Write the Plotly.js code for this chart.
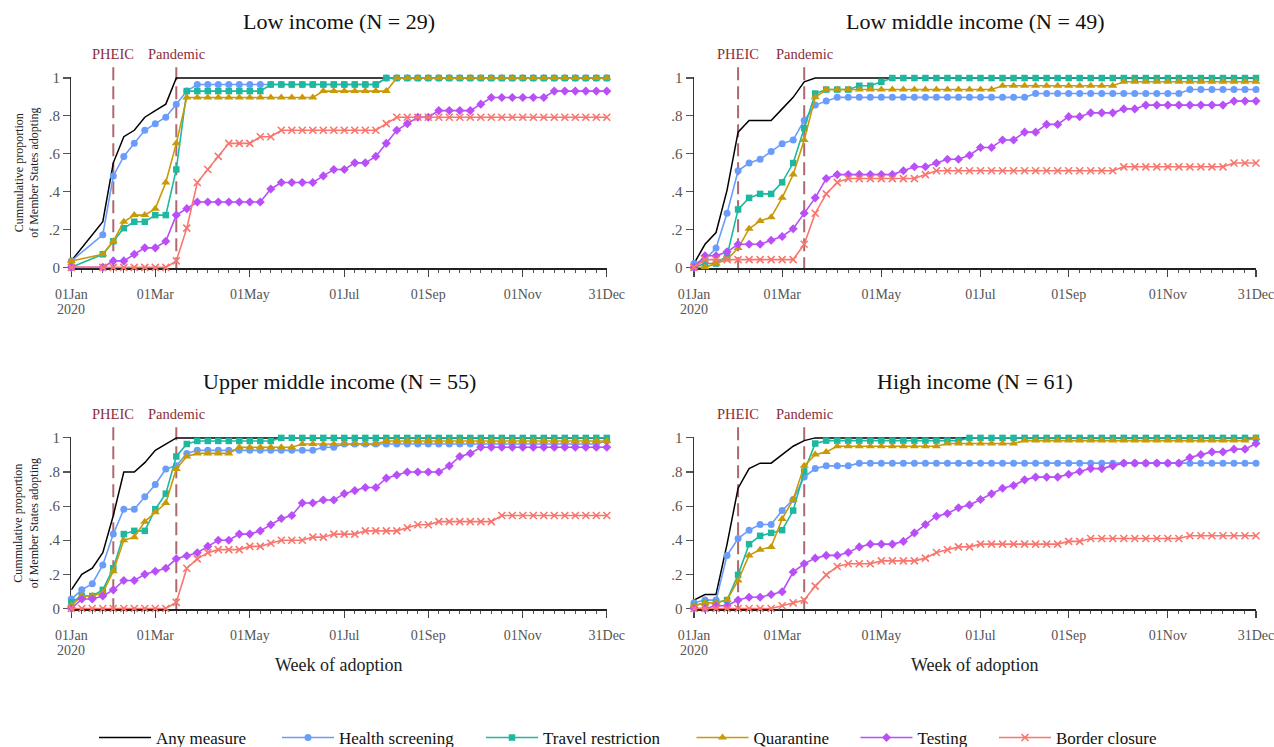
<!DOCTYPE html>
<html>
<head>
<meta charset="utf-8">
<script src="https://cdn.plot.ly/plotly-3.0.1.min.js"></script>
<style>html,body{margin:0;padding:0;background:#fff}</style>
</head>
<body>
<div id="chart" style="width:1274px;height:747px"></div>
<script>
// Weekly cumulative adoption of COVID-19 measures by income group, 2020.
// x values are week numbers of 2020 (week 0 = 01 Jan).

const weeksLow = [0,3,4,5,6,7,8,9,10,11,12,13,14,15,16,17,18,19,20,21,22,23,24,25,26,27,28,29,30,31,32,33,34,35,36,37,38,39,40,41,42,43,44,45,46,47,48,49,50,51];
const weeksAll = [0,1,2,3,4,5,6,7,8,9,10,11,12,13,14,15,16,17,18,19,20,21,22,23,24,25,26,27,28,29,30,31,32,33,34,35,36,37,38,39,40,41,42,43,44,45,46,47,48,49,50,51];

const tickWeeks = [0, 8, 17, 26, 34, 43, 51];
const tickLabels = ["01Jan", "01Mar", "01May", "01Jul", "01Sep", "01Nov", "31Dec"];
const yearLabel = "2020";
const yTicks = [0, 0.2, 0.4, 0.6, 0.8, 1];
const yTickLabels = ["0", ".2", ".4", ".6", ".8", "1"];

const eventNames = ["PHEIC", "Pandemic"];
const eventWeeks = [4, 10];

const panelTitles = ["Low income (N = 29)", "Low middle income (N = 49)", "Upper middle income (N = 55)", "High income (N = 61)"];
const measures = ["Any measure", "Health screening", "Travel restriction", "Quarantine", "Testing", "Border closure"];

// Low income
const low_any = [.034,.241,.552,.690,.724,.793,.828,.862,1,1,1,1,1,1,1,1,1,1,1,1,1,1,1,1,1,1,1,1,1,1,1,1,1,1,1,1,1,1,1,1,1,1,1,1,1,1,1,1,1,1];
const low_health = [.034,.172,.483,.586,.655,.724,.759,.793,.862,.931,.966,.966,.966,.966,.966,.966,.966,.966,.966,.966,.966,.966,.966,.966,.966,.966,.966,.966,1,1,1,1,1,1,1,1,1,1,1,1,1,1,1,1,1,1,1,1,1,1];
const low_travel = [0,.069,.138,.207,.241,.241,.276,.276,.517,.931,.931,.931,.931,.931,.931,.931,.931,.966,.966,.966,.966,.966,.966,.966,.966,.966,.966,.966,1,1,1,1,1,1,1,1,1,1,1,1,1,1,1,1,1,1,1,1,1,1];
const low_quar = [.034,.069,.138,.241,.276,.276,.310,.448,.655,.897,.897,.897,.897,.897,.897,.897,.897,.897,.897,.897,.897,.897,.931,.931,.931,.931,.931,.931,.931,1,1,1,1,1,1,1,1,1,1,1,1,1,1,1,1,1,1,1,1,1];
const low_test = [0,0,.034,.034,.069,.103,.103,.138,.276,.310,.345,.345,.345,.345,.345,.345,.345,.414,.448,.448,.448,.448,.483,.517,.517,.552,.552,.586,.655,.724,.759,.793,.793,.828,.828,.828,.828,.862,.897,.897,.897,.897,.897,.897,.931,.931,.931,.931,.931,.931];
const low_border = [0,0,0,0,0,0,0,0,.034,.207,.448,.517,.586,.655,.655,.655,.690,.690,.724,.724,.724,.724,.724,.724,.724,.724,.724,.724,.759,.793,.793,.793,.793,.793,.793,.793,.793,.793,.793,.793,.793,.793,.793,.793,.793,.793,.793,.793,.793,.793];

// Low middle income
const lm_any = [.020,.122,.184,.408,.714,.776,.776,.776,.837,.898,.980,1,1,1,1,1,1,1,1,1,1,1,1,1,1,1,1,1,1,1,1,1,1,1,1,1,1,1,1,1,1,1,1,1,1,1,1,1,1,1,1,1];
const lm_health = [.020,.041,.102,.286,.510,.551,.571,.612,.653,.673,.776,.857,.878,.898,.898,.898,.898,.898,.898,.898,.898,.898,.898,.898,.898,.898,.898,.898,.898,.898,.898,.918,.918,.918,.918,.918,.918,.918,.918,.918,.918,.918,.918,.918,.918,.939,.939,.939,.939,.939,.939,.939];
const lm_travel = [0,.020,.020,.061,.306,.367,.388,.388,.449,.551,.735,.918,.939,.939,.939,.959,.959,.980,1,1,1,1,1,1,1,1,1,1,1,1,1,1,1,1,1,1,1,1,1,1,1,1,1,1,1,1,1,1,1,1,1,1];
const lm_quar = [0,0,.020,.041,.102,.204,.245,.265,.367,.490,.673,.898,.939,.939,.939,.939,.939,.939,.939,.939,.939,.939,.939,.939,.939,.939,.939,.939,.959,.959,.959,.959,.959,.959,.959,.959,.959,.959,.959,.980,.980,.980,.980,.980,.980,.980,.980,.980,.980,.980,.980,.980];
const lm_test = [0,.061,.061,.082,.122,.122,.122,.143,.163,.204,.286,.367,.469,.490,.490,.490,.490,.490,.490,.510,.531,.531,.551,.571,.571,.592,.633,.633,.673,.673,.714,.714,.755,.755,.796,.796,.816,.816,.816,.837,.837,.857,.857,.857,.857,.857,.857,.857,.857,.878,.878,.878];
const lm_border = [0,.041,.041,.041,.041,.041,.041,.041,.041,.041,.122,.286,.388,.449,.469,.469,.469,.469,.469,.469,.469,.490,.510,.510,.510,.510,.510,.510,.510,.510,.510,.510,.510,.510,.510,.510,.510,.510,.510,.531,.531,.531,.531,.531,.531,.531,.531,.531,.531,.551,.551,.551];

// Upper middle income
const um_any = [.109,.200,.236,.327,.545,.800,.800,.855,.927,.964,1,1,1,1,1,1,1,1,1,1,1,1,1,1,1,1,1,1,1,1,1,1,1,1,1,1,1,1,1,1,1,1,1,1,1,1,1,1,1,1,1,1];
const um_health = [.055,.109,.145,.255,.436,.582,.582,.655,.727,.818,.836,.909,.927,.927,.927,.927,.927,.927,.927,.927,.927,.927,.927,.927,.945,.945,.964,.964,.964,.964,.964,.964,.964,.964,.964,.964,.964,.964,.964,.964,.964,.964,.964,.964,.964,.964,.964,.964,.964,.964,.964,.982];
const um_travel = [.036,.073,.073,.109,.236,.436,.455,.455,.582,.673,.891,.964,.982,.982,.982,.982,.982,.982,.982,.982,1,1,1,1,1,1,1,1,1,1,1,1,1,1,1,1,1,1,1,1,1,1,1,1,1,1,1,1,1,1,1,1];
const um_quar = [.018,.073,.073,.091,.218,.400,.418,.509,.564,.618,.818,.891,.909,.909,.909,.909,.945,.945,.945,.945,.945,.945,.964,.964,.964,.964,.964,.964,.964,.964,.982,.982,.982,.982,.982,.982,.982,.982,.982,.982,.982,.982,.982,.982,.982,.982,.982,.982,.982,.982,.982,.982];
const um_test = [0,.055,.055,.073,.109,.164,.164,.200,.218,.236,.291,.309,.327,.364,.400,.400,.436,.436,.455,.491,.527,.545,.618,.618,.636,.636,.673,.691,.709,.709,.764,.782,.800,.800,.800,.800,.836,.891,.909,.945,.945,.945,.945,.945,.945,.945,.945,.945,.945,.945,.945,.945];
const um_border = [0,0,0,0,0,0,0,0,0,0,.036,.236,.291,.327,.345,.345,.345,.364,.364,.382,.400,.400,.400,.418,.418,.436,.436,.436,.455,.455,.455,.455,.473,.491,.491,.509,.509,.509,.509,.509,.509,.545,.545,.545,.545,.545,.545,.545,.545,.545,.545,.545];

// High income
const hi_any = [.049,.082,.082,.377,.705,.820,.852,.852,.902,.951,.984,1,1,1,1,1,1,1,1,1,1,1,1,1,1,1,1,1,1,1,1,1,1,1,1,1,1,1,1,1,1,1,1,1,1,1,1,1,1,1,1,1];
const hi_health = [.033,.049,.049,.311,.410,.459,.492,.492,.574,.639,.770,.820,.836,.836,.836,.852,.852,.852,.852,.852,.852,.852,.852,.852,.852,.852,.852,.852,.852,.852,.852,.852,.852,.852,.852,.852,.852,.852,.852,.852,.852,.852,.852,.852,.852,.852,.852,.852,.852,.852,.852,.852];
const hi_travel = [.016,.033,.033,.049,.197,.377,.426,.443,.459,.574,.803,.967,.984,.984,.984,.984,.984,.984,.984,.984,.984,.984,.984,.984,.984,1,1,1,1,1,1,1,1,1,1,1,1,1,1,1,1,1,1,1,1,1,1,1,1,1,1,1];
const hi_quar = [.016,.033,.033,.049,.164,.311,.344,.361,.525,.639,.836,.902,.918,.951,.951,.951,.951,.951,.951,.951,.951,.951,.951,.967,.967,.967,.967,.967,.967,.967,.984,.984,.984,.984,.984,.984,.984,.984,.984,.984,.984,.984,.984,.984,.984,.984,.984,.984,.984,.984,.984,1];
const hi_test = [0,0,.016,.016,.049,.066,.066,.082,.098,.213,.262,.295,.311,.311,.328,.361,.377,.377,.377,.393,.443,.492,.541,.557,.590,.607,.639,.672,.705,.721,.754,.770,.770,.770,.787,.803,.820,.820,.836,.852,.852,.852,.852,.852,.852,.885,.902,.918,.918,.934,.934,.967];
const hi_border = [0,0,0,0,0,0,0,0,.016,.033,.049,.131,.197,.246,.262,.262,.262,.279,.279,.279,.279,.295,.328,.344,.361,.361,.377,.377,.377,.377,.377,.377,.377,.377,.393,.393,.410,.410,.410,.410,.410,.410,.410,.410,.410,.426,.426,.426,.426,.426,.426,.426];

// Styling
const FONT = "Liberation Serif, Times New Roman, serif";
const W = 1274, H = 747;
const colors = ["#000000", "#6a9dfb", "#1cb8a0", "#c99a08", "#b84ff7", "#f8766d"];
const symbols = [null, "circle", "square", "triangle-up", "diamond", "x-thin"];
const sizes = [0, 7, 6.5, 8, 7, 7];

const panels = [
  {weeks: weeksLow, series: [low_any, low_health, low_travel, low_quar, low_test, low_border]},
  {weeks: weeksAll, series: [lm_any, lm_health, lm_travel, lm_quar, lm_test, lm_border]},
  {weeks: weeksAll, series: [um_any, um_health, um_travel, um_quar, um_test, um_border]},
  {weeks: weeksAll, series: [hi_any, hi_health, hi_travel, hi_quar, hi_test, hi_border]}
];

// Plot areas in pixels: [left, right, top, bottom]
const boxes = [
  [71.3, 606.8, 76.7, 268.3],
  [694, 1256, 76.7, 268.3],
  [71.3, 606.8, 436.7, 609.3],
  [694, 1256, 436.7, 609.3]
];

// Legend entry positions (left edge, px)
const legendX = [94, 277, 481, 691.5, 855.5, 994];

const traces = [];
panels.forEach((p, pi) => {
  const sfx = pi === 0 ? "" : String(pi + 1);
  p.series.forEach((vals, si) => {
    const t = {
      type: "scatter",
      x: p.weeks,
      y: vals,
      xaxis: "x" + sfx,
      yaxis: "y" + sfx,
      name: measures[si],
      cliponaxis: false,
      showlegend: pi === 0,
      legend: si === 0 ? "legend" : "legend" + (si + 1),
      line: {color: colors[si], width: si === 0 ? 1.5 : 1.6},
      hoverinfo: "x+y+name"
    };
    if (si === 0) {
      t.mode = "lines";
    } else {
      t.mode = "lines+markers";
      t.marker = {symbol: symbols[si], size: sizes[si], color: colors[si],
        line: si === 5 ? {color: colors[si], width: 1.6} : {width: 0}};
    }
    traces.push(t);
  });
});

const layout = {
  width: W, height: H, autosize: false,
  margin: {l: 0, r: 0, t: 0, b: 0, autoexpand: false},
  paper_bgcolor: "#fff", plot_bgcolor: "#fff",
  font: {family: FONT, color: "#222"},
  annotations: [],
  shapes: []
};

boxes.forEach((b, i) => {
  const sfx = i === 0 ? "" : String(i + 1);
  const xa = {
    domain: [b[0] / W, b[1] / W],
    range: [0, 51],
    anchor: "y" + sfx,
    showgrid: false, zeroline: false,
    showline: true, linecolor: "#222", linewidth: 1.4,
    ticks: "outside", ticklen: 7, tickwidth: 1.2, tickcolor: "#444",
    tickmode: "array", tickvals: tickWeeks, ticktext: tickLabels,
    tickfont: {family: FONT, size: 14, color: "#555"},
    ticklabelstandoff: 5,
    ticklabeloverflow: "allow",
    minor: {ticks: "outside", ticklen: 3.5, tickwidth: 1, tickcolor: "#555", tickmode: "linear", tick0: 0, dtick: 1, showgrid: false},
    layer: "below traces",
    fixedrange: true
  };
  const ya = {
    domain: [1 - b[3] / H, 1 - b[2] / H],
    range: [-0.005, 1.007],
    anchor: "x" + sfx,
    showgrid: false, zeroline: false,
    showline: true, linecolor: "#333", linewidth: 1.4,
    ticks: "outside", ticklen: 7, tickwidth: 1.2, tickcolor: "#555",
    tickmode: "array", tickvals: yTicks, ticktext: yTickLabels,
    tickfont: {family: FONT, size: 15, color: "#555"},
    layer: "below traces",
    fixedrange: true
  };
  layout["xaxis" + sfx] = xa;
  layout["yaxis" + sfx] = ya;

  // Year under the first tick label
  layout.annotations.push({
    text: yearLabel, xref: "x" + sfx, yref: "y" + sfx + " domain",
    x: tickWeeks[0], y: 0, yshift: -41, xanchor: "center", yanchor: "middle", showarrow: false,
    font: {family: FONT, size: 14, color: "#555"}
  });

  // Panel title
  layout.annotations.push({
    text: panelTitles[i], xref: "x" + sfx + " domain", yref: "y" + sfx + " domain",
    x: 0.5, y: 1, yshift: 55, xanchor: "center", yanchor: "middle", showarrow: false,
    font: {family: FONT, size: 22, color: "#111"}
  });

  // Event markers
  eventWeeks.forEach((wk, ei) => {
    layout.shapes.push({
      type: "line", xref: "x" + sfx, yref: "y" + sfx + " domain",
      x0: wk, x1: wk, y0: 1 + 9.5 / (b[3] - b[2]), y1: 0,
      line: {color: "rgba(150,62,72,0.78)", width: 2, dash: "13px,6px"},
      layer: "below"
    });
    layout.annotations.push({
      text: eventNames[ei], xref: "x" + sfx, yref: "y" + sfx + " domain",
      x: wk, y: 1, yshift: 23, xanchor: "center", yanchor: "middle", showarrow: false,
      font: {family: FONT, size: 14.5, color: "#8b2c3b"}
    });
  });

  // Y axis title on left column
  if (i === 0 || i === 2) {
    layout.annotations.push({
      text: "Cummulative proportion<br>of Member States adopting",
      xref: "x" + sfx + " domain", yref: "y" + sfx + " domain",
      x: 0, xshift: -45, y: 0.5, xanchor: "center", yanchor: "middle",
      textangle: -90, showarrow: false,
      font: {family: FONT, size: 12, color: "#222"}
    });
  }
  // X axis title on bottom row
  if (i >= 2) {
    layout.annotations.push({
      text: "Week of adoption",
      xref: "x" + sfx + " domain", yref: "y" + sfx + " domain",
      x: 0.5, y: 0, yshift: -56, xanchor: "center", yanchor: "middle", showarrow: false,
      font: {family: FONT, size: 18, color: "#222"}
    });
  }
});

// One legend per measure so the entries sit in a single spaced row
measures.forEach((m, si) => {
  const key = si === 0 ? "legend" : "legend" + (si + 1);
  layout[key] = {
    orientation: "h", x: legendX[si] / W, xanchor: "left",
    y: 1 - 738 / H, yanchor: "middle",
    bgcolor: "rgba(0,0,0,0)", borderwidth: 0,
    itemwidth: 52,
    font: {family: FONT, size: 17, color: "#111"}
  };
});

Plotly.newPlot("chart", traces, layout, {displayModeBar: false, staticPlot: true});
</script>
</body>
</html>
